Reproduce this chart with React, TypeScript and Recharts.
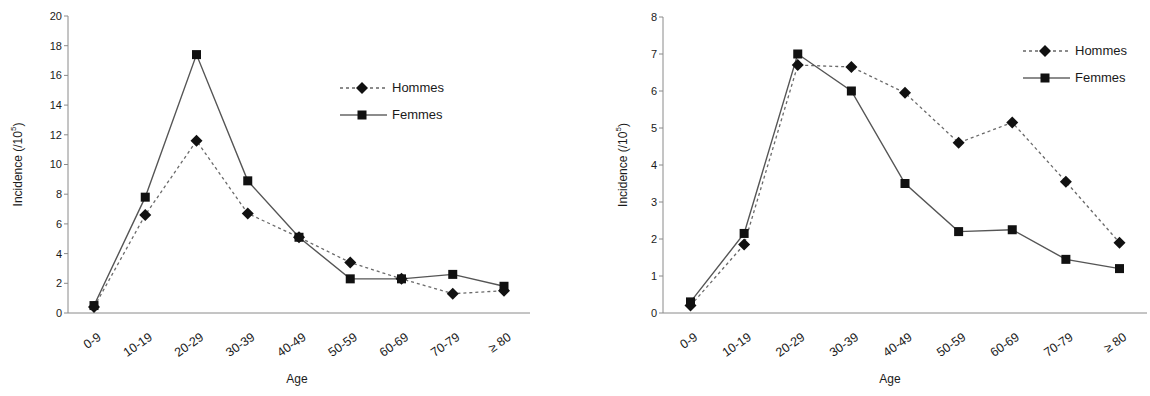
import { LineChart, Line, XAxis, YAxis, Legend } from 'recharts';

const ageGroups = ['0-9', '10-19', '20-29', '30-39', '40-49', '50-59', '60-69', '70-79', '≥ 80'];

const leftHommes = [0.4, 6.6, 11.6, 6.7, 5.1, 3.4, 2.3, 1.3, 1.5];
const leftFemmes = [0.5, 7.8, 17.4, 8.9, 5.1, 2.3, 2.3, 2.6, 1.8];
const leftTicks = [0, 2, 4, 6, 8, 10, 12, 14, 16, 18, 20];

const rightHommes = [0.2, 1.85, 6.7, 6.65, 5.95, 4.6, 5.15, 3.55, 1.9];
const rightFemmes = [0.3, 2.15, 7.0, 6.0, 3.5, 2.2, 2.25, 1.45, 1.2];
const rightTicks = [0, 1, 2, 3, 4, 5, 6, 7, 8];

const boundaryTicks = ageGroups.map((_, i) => i).concat(ageGroups.length);

const FONT = 'Arial, "Liberation Sans", sans-serif';
const INK = '#1a1a1a';
const AXIS = '#8a8a8a';

const Diamond = (props: any) => {
  const { cx, cy } = props;
  if (cx == null || cy == null) return null;
  const r = 6;
  return <polygon points={`${cx},${cy - r} ${cx + r},${cy} ${cx},${cy + r} ${cx - r},${cy}`} fill="#111" />;
};

const Square = (props: any) => {
  const { cx, cy } = props;
  if (cx == null || cy == null) return null;
  return <rect x={cx - 4.5} y={cy - 4.5} width={9} height={9} fill="#111" />;
};

const AgeTick = (props: any) => {
  const { x, y, payload } = props;
  return (
    <g transform={`translate(${x + 8},${y + 23})`}>
      <text textAnchor="end" transform="rotate(-35)" fontSize={12.5} fill={INK} fontFamily={FONT}>
        {payload.value}
      </text>
    </g>
  );
};

const YTitle = (props: any) => {
  const { x, y, height } = props.viewBox;
  const cx = x + 6;
  const cy = y + height / 2;
  return (
    <text x={cx} y={cy} transform={`rotate(-90, ${cx}, ${cy})`} textAnchor="middle" dominantBaseline="central"
      fontSize={12} fill={INK} fontFamily={FONT}>
      Incidence (/10<tspan dy={-5} fontSize={8}>5</tspan><tspan dy={5}>)</tspan>
    </text>
  );
};

const LegendBox = ({ top, left }: { top: number; left: number }) => (
  <div style={{ position: 'absolute', top, left, fontFamily: FONT, fontSize: 13, color: INK }}>
    {[
      { name: 'Hommes', dash: '3 3', Mark: Diamond },
      { name: 'Femmes', dash: undefined, Mark: Square },
    ].map(({ name, dash, Mark }) => (
      <div key={name} style={{ display: 'flex', alignItems: 'center', height: 27 }}>
        <svg width={48} height={14}>
          <line x1={0} y1={7} x2={47} y2={7} stroke="#666" strokeWidth={1.3} strokeDasharray={dash} />
          <Mark cx={22} cy={7} />
        </svg>
        <span style={{ marginLeft: 4 }}>{name}</span>
      </div>
    ))}
  </div>
);

interface ChartProps {
  hommes: number[];
  femmes: number[];
  ticks: number[];
  width: number;
  left: number;
  margin: { top: number; right: number; bottom: number; left: number };
  yWidth: number;
  pad: number;
  legend: { top: number; left: number };
  ageDx: number;
}

const IncidenceChart = ({ hommes, femmes, ticks, width, left, margin, yWidth, pad, legend, ageDx }: ChartProps) => {
  const data = ageGroups.map((age, i) => ({ age, Hommes: hommes[i], Femmes: femmes[i] }));
  return (
    <div style={{ position: 'absolute', left, top: 0 }}>
      <LineChart width={width} height={396} data={data} margin={margin}>
        {/* boundary ticks between age groups */}
        <XAxis xAxisId="a-grid" type="number" domain={[0, ageGroups.length]} ticks={boundaryTicks}
          allowDataOverflow tick={false} tickSize={4} height={1}
          axisLine={{ stroke: AXIS }} tickLine={{ stroke: AXIS }} />
        <XAxis xAxisId="b-age" dataKey="age" padding={{ left: pad, right: pad }} interval={0}
          axisLine={false} tickLine={false} tickSize={0} tick={<AgeTick />} height={69}
          label={{
            content: (p: any) => (
              <text x={p.viewBox.x + p.viewBox.width / 2 + ageDx} y={p.viewBox.y + 65} textAnchor="middle"
                dominantBaseline="central" fontSize={12} fill={INK} fontFamily={FONT}>Age</text>
            ),
          }} />
        <YAxis domain={[0, ticks[ticks.length - 1]]} ticks={ticks} interval={0} width={yWidth}
          tick={{ fill: INK, fontSize: 11, fontFamily: FONT }} tickSize={4}
          axisLine={{ stroke: AXIS }} tickLine={{ stroke: AXIS }}
          label={{ content: (p: any) => <YTitle {...p} /> }} />
        <Legend layout="vertical" align="center" verticalAlign="middle"
          content={() => <LegendBox top={legend.top} left={legend.left} />} wrapperStyle={{ left: 0, top: 0, width: 0, height: 0 }} />
        <Line xAxisId="b-age" dataKey="Hommes" stroke="#6a6a6a" strokeWidth={1.3} strokeDasharray="3 3"
          dot={<Diamond />} activeDot={false} isAnimationActive={false} />
        <Line xAxisId="b-age" dataKey="Femmes" stroke="#555" strokeWidth={1.4}
          dot={<Square />} activeDot={false} isAnimationActive={false} />
      </LineChart>
    </div>
  );
};

export default function App() {
  return (
    <div style={{ position: 'absolute', left: 0, top: 0, width: 1150, height: 396, background: '#fff' }}>
      <IncidenceChart hommes={leftHommes} femmes={leftFemmes} ticks={leftTicks} width={560} left={0}
        margin={{ top: 16, right: 30, bottom: 13, left: 12 }} yWidth={56} pad={26}
        legend={{ top: 74, left: 340 }} ageDx={-2} />
      <IncidenceChart hommes={rightHommes} femmes={rightFemmes} ticks={rightTicks} width={570} left={580}
        margin={{ top: 17, right: 3, bottom: 13, left: 37 }} yWidth={46} pad={27.5}
        legend={{ top: 37, left: 443 }} ageDx={-15} />
    </div>
  );
}
